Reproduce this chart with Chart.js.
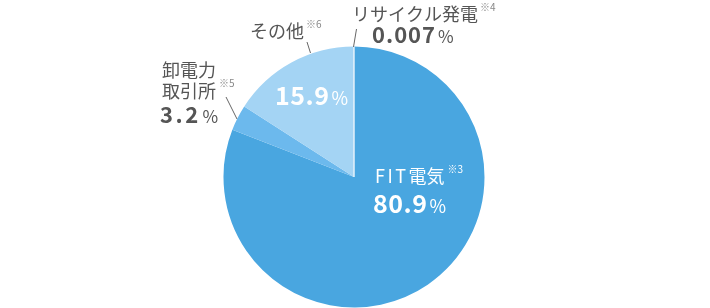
<html>
<head>
  <meta charset="utf-8">
  <title>電源構成</title>
  <script src="https://cdn.jsdelivr.net/npm/chart.js"></script>
  <style>
    body { margin: 0; background: #ffffff; }
    #wrap { width: 710px; height: 308px; }
  </style>
</head>
<body>
<div id="wrap"><canvas id="pie" width="710" height="308"></canvas></div>
<script>
// data, clockwise from top
const sources = ['FIT電気', '卸電力取引所', 'その他', 'リサイクル発電'];
const shares = [80.9, 3.2, 15.9, 0.007];
const shareLabels = ['80.9', '3.2', '15.9', '0.007'];
const notes = ['※3', '※5', '※6', '※4'];
const colors = ['#49a6e0', '#6cb9ed', '#a4d4f4', '#e4f1fb'];

const FONT = '"Noto Sans CJK JP", "Noto Sans", sans-serif';
const GREY = '#555555';

// draw a row of text pieces left to right
function run(ctx, x, y, parts) {
  for (const p of parts) {
    ctx.font = (p.w || 'normal') + ' ' + p.s + 'px ' + FONT;
    ctx.fillStyle = p.c;
    ctx.letterSpacing = (p.ls || 0) + 'px';
    ctx.fillText(p.t, x, y + (p.dy || 0));
    x += ctx.measureText(p.t).width + (p.gap || 0);
  }
  ctx.letterSpacing = '0px';
}

function line(ctx, x1, y1, x2, y2) {
  ctx.beginPath();
  ctx.moveTo(x1, y1);
  ctx.lineTo(x2, y2);
  ctx.strokeStyle = '#666';
  ctx.lineWidth = 1;
  ctx.stroke();
}

const labelPlugin = {
  id: 'labels',
  afterDraw(chart) {
    const ctx = chart.ctx;
    ctx.save();
    ctx.textBaseline = 'alphabetic';
    ctx.textAlign = 'left';

    // リサイクル発電
    run(ctx, 352, 21, [
      {t: sources[3], s: 18, c: GREY, gap: 2},
      {t: notes[3], s: 10, c: '#888', dy: -10}
    ]);
    run(ctx, 372, 43, [
      {t: shareLabels[3], s: 22, w: 'bold', c: GREY, ls: 1, gap: 2},
      {t: '%', s: 17, c: GREY}
    ]);
    line(ctx, 356.5, 29, 353.5, 47);

    // その他
    run(ctx, 250, 38, [
      {t: sources[2], s: 18, c: GREY, gap: 2},
      {t: notes[2], s: 10, c: '#888', dy: -10}
    ]);
    line(ctx, 307, 42, 310.5, 53);
    run(ctx, 275, 105, [
      {t: shareLabels[2], s: 25, w: 'bold', c: '#fff', ls: 0.5, gap: 2},
      {t: '%', s: 18, c: '#fff'}
    ]);

    // 卸電力取引所
    run(ctx, 162, 77, [{t: '卸電力', s: 18, c: GREY}]);
    run(ctx, 162, 98, [
      {t: '取引所', s: 18, c: GREY, gap: 3},
      {t: notes[1], s: 10, c: '#888', dy: -11}
    ]);
    run(ctx, 160, 123, [
      {t: shareLabels[1], s: 22, w: 'bold', c: GREY, ls: 2.5, gap: 2},
      {t: '%', s: 17, c: GREY}
    ]);
    line(ctx, 226, 97, 237, 119);

    // FIT電気
    run(ctx, 375, 183, [
      {t: 'FIT', s: 18, c: '#fff', ls: 2.5},
      {t: '電気', s: 18, c: '#fff', gap: 3},
      {t: notes[0], s: 10, c: '#fff', dy: -10}
    ]);
    run(ctx, 373, 213, [
      {t: shareLabels[0], s: 25, w: 'bold', c: '#fff', ls: 0.5, gap: 2},
      {t: '%', s: 18, c: '#fff'}
    ]);
    ctx.restore();
  }
};

new Chart(document.getElementById('pie'), {
  type: 'pie',
  data: {
    labels: sources,
    datasets: [{
      data: shares,
      backgroundColor: colors,
      borderColor: ['#49a6e0', '#6cb9ed', '#a4d4f4', '#e4f1fb'],
      borderWidth: [0, 0, 0, 1]
    }]
  },
  options: {
    responsive: false,
    animation: false,
    layout: { padding: { top: 46, bottom: 0, left: 0, right: 2 } },
    plugins: {
      legend: { display: false },
      tooltip: { enabled: false }
    }
  },
  plugins: [labelPlugin]
});
</script>
</body>
</html>
